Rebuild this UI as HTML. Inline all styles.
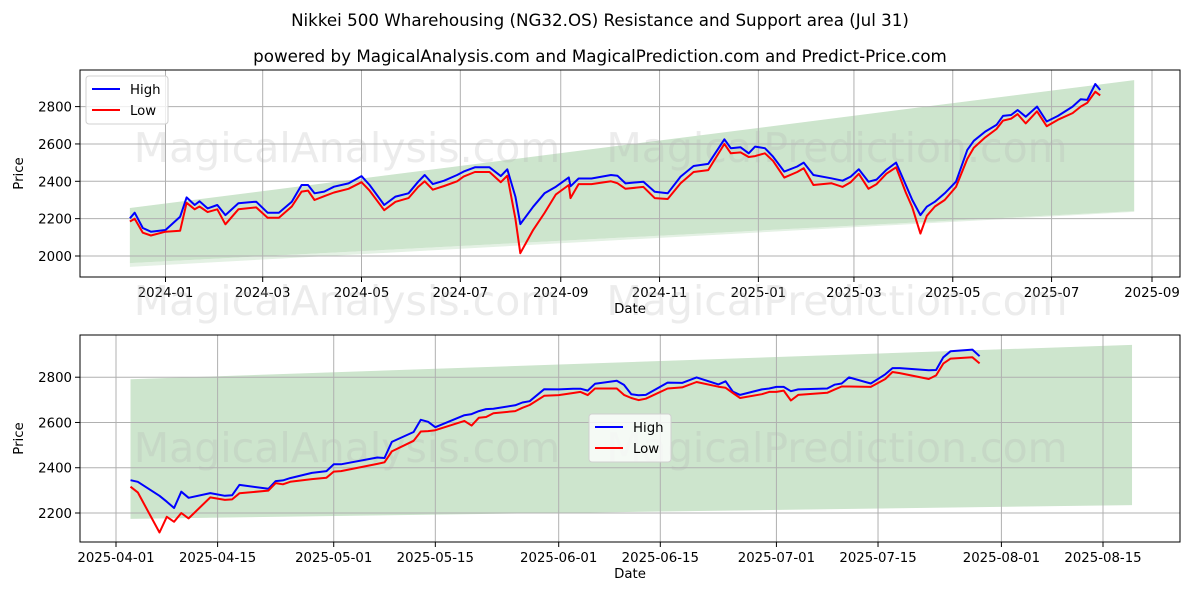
<!DOCTYPE html>
<html><head><meta charset="utf-8"><style>
body{margin:0;background:#fff;}
svg text{font-family:"DejaVu Sans","Liberation Sans",sans-serif;}
</style></head><body>
<svg id="c" width="1200" height="600" xmlns="http://www.w3.org/2000/svg">
<rect width="1200" height="600" fill="#fff"/>
<text x="600" y="26" text-anchor="middle" font-size="16.7">Nikkei 500 Wharehousing (NG32.OS) Resistance and Support area (Jul 31)</text>
<text x="600" y="62" text-anchor="middle" font-size="16.7">powered by MagicalAnalysis.com and MagicalPrediction.com and Predict-Price.com</text>
</svg>
<script>
// ===== Top chart data (days since 2024-01-01) =====
const topDays=[-22,-19,-14,-9,0,9,13,18,21,26,32,37,45,56,63,70,78,84,88,92,98,104,113,121,126,135,142,150,156,160,165,172,180,184,191,200,207,211,216,219,227,234,241,249,250,255,263,275,279,284,295,302,310,318,326,335,345,349,355,360,364,370,375,382,390,394,400,411,418,423,428,434,439,445,451,457,461,466,470,475,481,488,495,499,506,513,517,522,526,531,538,544,551,560,565,569,574,577];
const topHigh=[2202,2232,2150,2130,2139,2210,2314,2273,2293,2255,2273,2219,2282,2291,2232,2232,2291,2380,2380,2336,2345,2371,2389,2428,2380,2273,2318,2336,2398,2434,2385,2403,2434,2452,2475,2475,2428,2464,2318,2171,2264,2336,2371,2421,2373,2415,2415,2434,2430,2389,2398,2344,2336,2425,2482,2493,2625,2577,2582,2550,2586,2577,2532,2452,2479,2500,2434,2416,2403,2425,2464,2398,2409,2461,2500,2380,2300,2219,2264,2291,2336,2398,2568,2617,2666,2702,2750,2755,2782,2746,2800,2720,2750,2800,2839,2836,2921,2889];
const topLow=[2185,2200,2125,2110,2130,2135,2285,2250,2265,2235,2250,2170,2250,2260,2205,2205,2265,2345,2350,2300,2320,2340,2360,2395,2350,2245,2290,2310,2370,2400,2355,2375,2400,2425,2450,2450,2395,2430,2200,2015,2140,2230,2330,2380,2310,2385,2385,2400,2390,2360,2370,2310,2305,2390,2450,2460,2600,2550,2555,2530,2535,2550,2510,2420,2450,2470,2380,2390,2370,2395,2440,2360,2385,2440,2475,2340,2260,2120,2215,2265,2300,2370,2520,2580,2635,2680,2725,2735,2760,2710,2775,2695,2730,2765,2800,2820,2880,2860];
const topBandDays=[-22,598];
const topBandUpper=[2257,2942];
const topBandLower=[1962,2240];
const topBandLower2=[1942,2236];
const topTickLabels=["2024-01","2024-03","2024-05","2024-07","2024-09","2024-11","2025-01","2025-03","2025-05","2025-07","2025-09"];
const topTickDays=[0,60,121,182,244,305,366,425,486,547,609];
const topYTicks=[2000,2200,2400,2600,2800];
// ===== Bottom chart data (days since 2025-04-01) =====
const botDays=[2,3,6,7,8,9,10,13,15,16,17,21,22,23,24,27,29,30,31,36,37,38,41,42,43,44,48,49,50,51,52,55,56,57,59,61,63,64,65,66,69,70,71,72,73,76,78,80,83,84,85,86,89,90,91,92,93,94,98,99,100,101,104,106,107,108,112,113,114,115,118,119];
const botHigh=[2345,2338,2276,2250,2222,2294,2267,2288,2276,2278,2324,2307,2341,2344,2354,2377,2385,2415,2415,2445,2443,2514,2558,2612,2603,2579,2632,2637,2650,2659,2661,2676,2688,2694,2747,2746,2749,2749,2741,2771,2784,2766,2725,2720,2722,2776,2775,2799,2768,2782,2736,2722,2746,2750,2757,2757,2738,2746,2750,2767,2772,2799,2772,2813,2840,2840,2831,2832,2888,2915,2922,2893];
const botLow=[2316,2291,2114,2183,2161,2200,2176,2269,2258,2260,2287,2299,2332,2327,2338,2350,2356,2383,2385,2417,2424,2472,2519,2560,2562,2566,2607,2586,2621,2624,2641,2650,2665,2677,2718,2721,2730,2735,2721,2750,2750,2722,2708,2699,2705,2750,2755,2779,2758,2753,2730,2708,2725,2735,2735,2741,2697,2722,2731,2745,2759,2759,2757,2792,2823,2818,2792,2808,2860,2882,2888,2861];
const botBandDays=[2,140];
const botBandUpper=[2791,2943];
const botBandLower=[2174,2235];
const botTickLabels=["2025-04-01","2025-04-15","2025-05-01","2025-05-15","2025-06-01","2025-06-15","2025-07-01","2025-07-15","2025-08-01","2025-08-15"];
const botTickDays=[0,14,30,44,61,75,91,105,122,136];
const botYTicks=[2200,2400,2600,2800];

const NS="http://www.w3.org/2000/svg";
const svg=document.getElementById('c');
function mk(tag,attrs,parent){const e=document.createElementNS(NS,tag);for(const k in attrs)e.setAttribute(k,attrs[k]);(parent||svg).appendChild(e);return e;}

function drawPanel(P){
  const g=mk('g',{});
  
  
  const xs=d=>P.x0+(d-P.d0)*(P.x1-P.x0)/(P.d1-P.d0);
  const ys=v=>P.y0+(v-P.v0)*(P.y1-P.y0)/(P.v1-P.v0);
  if(P.lower2){
    const b2=mk('polygon',{points:[[xs(P.bd[0]),ys(P.lower[0])],[xs(P.bd[1]),ys(P.lower[1])],[xs(P.bd[1]),ys(P.lower2[1])],[xs(P.bd[0]),ys(P.lower2[0])]].map(p=>p.join(',')).join(' '),fill:'#e4f1e4'},g);
    
    
  }
  const b=mk('polygon',{points:[[xs(P.bd[0]),ys(P.upper[0])],[xs(P.bd[1]),ys(P.upper[1])],[xs(P.bd[1]),ys(P.lower[1])],[xs(P.bd[0]),ys(P.lower[0])]].map(p=>p.join(',')).join(' '),fill:'#cde5cd'},g);
  
  
  P.tickDays.forEach((d,i)=>{
    const x=xs(d);
    const l=mk('line',{x1:x,x2:x,y1:P.top,y2:P.bottom,stroke:'#b0b0b0','stroke-width':1},g);
    
    
    mk('line',{x1:x,x2:x,y1:P.bottom,y2:P.bottom+5,stroke:'#000'},g);
    const t=mk('text',{x:x,y:P.bottom+20,'text-anchor':'middle','font-size':13.3},g);
    t.textContent=P.tickLabels[i];
    
    
  });
  P.yTicks.forEach(v=>{
    const y=ys(v);
    const l=mk('line',{x1:P.left,x2:P.right,y1:y,y2:y,stroke:'#b0b0b0','stroke-width':1},g);
    
    
    mk('line',{x1:P.left-5,x2:P.left,y1:y,y2:y,stroke:'#000'},g);
    const t=mk('text',{x:P.left-8,y:y+5,'text-anchor':'end','font-size':13.3},g);
    t.textContent=v;
    
    
  });
  P.wm.forEach(w=>{
    const t=mk('text',{x:w[0],y:w[1],'text-anchor':'middle','font-size':41,fill:'#b4b4b4','fill-opacity':0.25},g);
    t.textContent=w[2];
    
    
  });
  const line=(days,vals,col,name)=>{
    const p=mk('polyline',{points:days.map((d,i)=>xs(d).toFixed(1)+','+ys(vals[i]).toFixed(1)).join(' '),fill:'none',stroke:col,'stroke-width':2,'stroke-linejoin':'round'},g);
    
    
  };
  line(P.days,P.high,'#0000ff','high-line');
  line(P.days,P.low,'#ff0000','low-line');
  const f=mk('rect',{x:P.left,y:P.top,width:P.right-P.left,height:P.bottom-P.top,fill:'none',stroke:'#000','stroke-width':1},g);
  
  
  const xl=mk('text',{x:(P.left+P.right)/2,y:P.bottom+36,'text-anchor':'middle','font-size':13.3},g);
  xl.textContent='Date';
  
  
  const yl=mk('text',{x:0,y:0,'text-anchor':'middle','font-size':13.3,transform:`translate(${P.left-57},${(P.top+P.bottom)/2}) rotate(-90)`},g);
  yl.textContent='Price';
  
  
  const L=mk('g',{transform:`translate(${P.leg[0]},${P.leg[1]})`},g);
  
  
  mk('rect',{x:0,y:0,width:82,height:48,rx:3,fill:'#fff','fill-opacity':0.8,stroke:'#d0d0d0'},L);
  [['High','#0000ff',13],['Low','#ff0000',34]].forEach(e=>{
    const en=mk('g',{},L);
    
    
    mk('line',{x1:6,x2:34,y1:e[2],y2:e[2],stroke:e[1],'stroke-width':2},en);
    const t=mk('text',{x:44,y:e[2]+5,'font-size':13.3},en);
    t.textContent=e[0];
  });
}

drawPanel({name:'top-chart',left:80,right:1180,top:70,bottom:277,
  x0:165.5,x1:1152,d0:0,d1:609,y0:256,y1:106.6,v0:2000,v1:2800,
  days:topDays,high:topHigh,low:topLow,bd:topBandDays,upper:topBandUpper,lower:topBandLower,lower2:topBandLower2,
  tickDays:topTickDays,tickLabels:topTickLabels,yTicks:topYTicks,
  wm:[[347,162,'MagicalAnalysis.com'],[837,162,'MagicalPrediction.com'],[347,315,'MagicalAnalysis.com'],[837,315,'MagicalPrediction.com']],
  leg:[86,76]});
drawPanel({name:'bottom-chart',left:80,right:1180,top:335,bottom:542,
  x0:116,x1:1103,d0:0,d1:136,y0:513,y1:377.2,v0:2200,v1:2800,
  days:botDays,high:botHigh,low:botLow,bd:botBandDays,upper:botBandUpper,lower:botBandLower,
  tickDays:botTickDays,tickLabels:botTickLabels,yTicks:botYTicks,
  wm:[[347,462,'MagicalAnalysis.com'],[837,462,'MagicalPrediction.com']],
  leg:[589,414]});
</script>
</body></html>
